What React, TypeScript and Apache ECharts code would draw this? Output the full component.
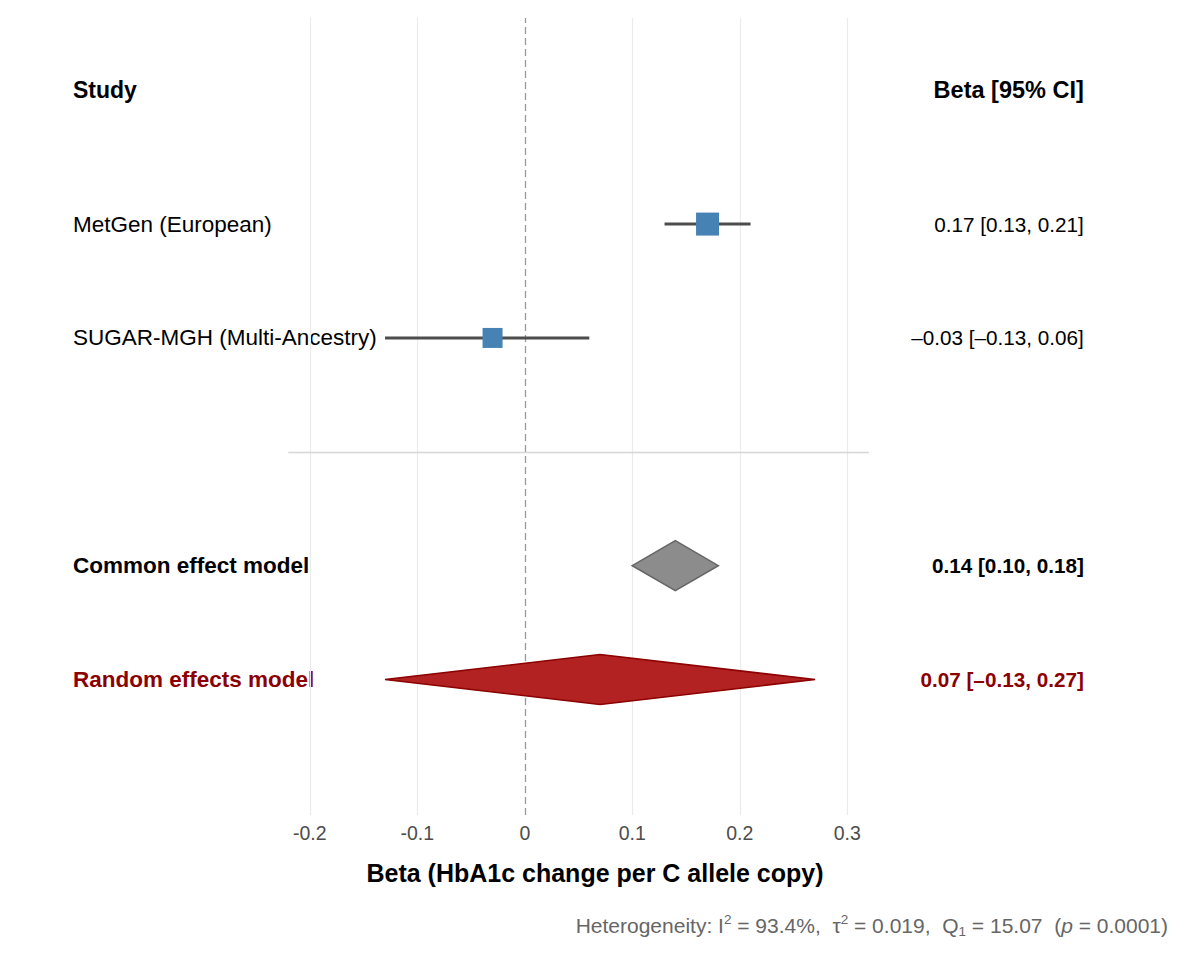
import React, { useEffect, useRef } from 'react';
import * as echarts from 'echarts';

// ---------- data ----------
const studyNames = ['MetGen (European)', 'SUGAR-MGH (Multi-Ancestry)'];
const studyBeta = [0.17, -0.03];
const studyLower = [0.13, -0.13];
const studyUpper = [0.21, 0.06];
const studyWeight = [85.0, 15.0]; // % weight (common effect)
const studyRow = [5, 4];

const modelNames = ['Common effect model', 'Random effects model'];
const modelBeta = [0.14, 0.07];
const modelLower = [0.10, -0.13];
const modelUpper = [0.18, 0.27];
const modelRow = [2, 1];

const separatorRow = 3;
const headerRow = 6.18;
const headerLeft = 'Study';
const headerRight = 'Beta [95% CI]';

const xTickValues = [-0.2, -0.1, 0, 0.1, 0.2, 0.3];
const xGridValues = [-0.2, -0.1, 0.1, 0.2, 0.3];
const referenceValue = 0;
const xMin = -0.22;
const xMax = 0.32;
const yMin = -0.19;
const yMax = 6.81;

const xTitle = 'Beta (HbA1c change per C allele copy)';
const hetI2 = '93.4%';
const hetTau2 = '0.019';
const hetQdf = '1';
const hetQ = '15.07';
const hetP = '0.0001';

// ---------- helpers ----------
const FONT = '"Liberation Sans", Arial, Helvetica, sans-serif';
const fmt = (v: number) => (v < 0 ? '\u2013' : '') + Math.abs(v).toFixed(2);
const ci = (b: number, l: number, u: number) => `${fmt(b)} [${fmt(l)}, ${fmt(u)}]`;
const same = (a: number, b: number) => Math.abs(a - b) < 1e-6;

const leftLabels: { v: number; t: string }[] = [
  { v: headerRow, t: `{hb|${headerLeft}}` },
  ...studyNames.map((n, i) => ({ v: studyRow[i], t: `{n|${n}}` })),
  { v: modelRow[0], t: `{cb|${modelNames[0]}}` },
  { v: modelRow[1], t: `{rb|${modelNames[1]}}` },
];
const rightLabels: { v: number; t: string }[] = [
  { v: headerRow, t: `{hb|${headerRight}}` },
  ...studyNames.map((_, i) => ({ v: studyRow[i], t: `{n|${ci(studyBeta[i], studyLower[i], studyUpper[i])}}` })),
  { v: modelRow[0], t: `{cb|${ci(modelBeta[0], modelLower[0], modelUpper[0])}}` },
  { v: modelRow[1], t: `{rb|${ci(modelBeta[1], modelLower[1], modelUpper[1])}}` },
];

const wMin = Math.min(...studyWeight);
const wMax = Math.max(...studyWeight);
const sizeForWeight = (w: number) => 20 + ((w - wMin) / (wMax - wMin || 1)) * 3;

export default function App() {
  const ref = useRef<HTMLDivElement>(null);

  useEffect(() => {
    if (!ref.current) return;
    const chart = echarts.init(ref.current, undefined, { renderer: 'svg' });

    const leftRich = {
      hb: { fontSize: 23, fontWeight: 'bold', color: '#000', fontFamily: FONT },
      n: { fontSize: 22.5, color: '#000', fontFamily: FONT },
      cb: { fontSize: 22.5, fontWeight: 'bold', color: '#000', fontFamily: FONT },
      rb: { fontSize: 22.5, fontWeight: 'bold', color: '#8b0000', fontFamily: FONT },
    };
    const rightRich = {
      hb: { fontSize: 23.5, fontWeight: 'bold', color: '#000', fontFamily: FONT },
      n: { fontSize: 20.7, color: '#000', fontFamily: FONT },
      cb: { fontSize: 20.7, fontWeight: 'bold', color: '#000', fontFamily: FONT },
      rb: { fontSize: 20.7, fontWeight: 'bold', color: '#8b0000', fontFamily: FONT },
    };

    const option: any = {
      animation: false,
      backgroundColor: '#ffffff',
      textStyle: { fontFamily: FONT },
      grid: { left: 288.3, right: 1200 - 868.8, top: 18, bottom: 145, containLabel: false },
      xAxis: {
        type: 'value',
        min: xMin,
        max: xMax,
        axisLine: { show: false },
        axisTick: { show: false },
        splitLine: { show: false },
        axisLabel: {
          customValues: xTickValues,
          formatter: (v: number) => String(Number(v.toFixed(1))),
          color: '#4d4d4d',
          fontSize: 19.5,
          margin: 8,
          fontFamily: FONT,
        },
      },
      yAxis: [
        {
          type: 'value',
          min: yMin,
          max: yMax,
          position: 'left',
          axisLine: { show: false },
          axisTick: { show: false },
          splitLine: { show: false },
          axisLabel: {
            customValues: leftLabels.map((d) => d.v),
            formatter: (v: number) => (leftLabels.find((d) => same(d.v, v)) || { t: '' }).t,
            align: 'left',
            margin: 215.3,
            rich: leftRich,
          },
        },
        {
          type: 'value',
          min: yMin,
          max: yMax,
          position: 'right',
          axisLine: { show: false },
          axisTick: { show: false },
          splitLine: { show: false },
          axisLabel: {
            customValues: rightLabels.map((d) => d.v),
            formatter: (v: number) => (rightLabels.find((d) => same(d.v, v)) || { t: '' }).t,
            align: 'right',
            margin: 215,
            rich: rightRich,
          },
        },
      ],
      graphic: [
        {
          type: 'text',
          x: 595,
          y: 873,
          style: {
            text: xTitle,
            fill: '#000',
            fontSize: 25,
            fontWeight: 'bold',
            fontFamily: FONT,
            align: 'center',
            verticalAlign: 'middle',
          },
        },
        {
          type: 'text',
          x: 1168,
          y: 925,
          style: {
            text: `Heterogeneity: I{sup|2} = ${hetI2},  {b|\u03c4}{sup|2} = ${hetTau2},  Q{sub|${hetQdf}} = ${hetQ}  ({it|p} = ${hetP})`,
            fill: '#666666',
            fontSize: 21,
            fontFamily: FONT,
            align: 'right',
            verticalAlign: 'middle',
            lineHeight: 26,
            rich: {
              b: { fontSize: 21, fill: '#666666', fontFamily: FONT, lineHeight: 26 },
              sup: { fontSize: 13.5, fill: '#666666', fontFamily: FONT, verticalAlign: 'top', lineHeight: 16 },
              sub: { fontSize: 13.5, fill: '#666666', fontFamily: FONT, verticalAlign: 'bottom', lineHeight: 16 },
              it: { fontSize: 21, fill: '#666666', fontFamily: FONT, fontStyle: 'italic', lineHeight: 26 },
            },
          },
        },
      ],
      series: [
        {
          type: 'scatter',
          name: 'guides',
          data: [],
          silent: true,
          z: 1,
          markLine: {
            silent: true,
            symbol: ['none', 'none'],
            label: { show: false },
            animation: false,
            data: [
              ...xGridValues.map((v) => ({ xAxis: v, lineStyle: { color: '#ebebeb', width: 1.2, type: 'solid' } })),
              { xAxis: referenceValue, lineStyle: { color: '#999999', width: 1.3, type: [7, 4] } },
              [
                { coord: [xMin, separatorRow], lineStyle: { color: '#d6d6d6', width: 1.3, type: 'solid' } },
                { coord: [xMax, separatorRow] },
              ],
            ],
          },
        },
        {
          type: 'custom',
          name: 'studies',
          z: 5,
          data: studyBeta.map((b, i) => [b, studyRow[i], studyLower[i], studyUpper[i], studyWeight[i]]),
          encode: { x: [0, 2, 3], y: 1 },
          renderItem: (params: any, api: any) => {
            const b = api.value(0);
            const y = api.value(1);
            const c = api.coord([b, y]);
            const l = api.coord([api.value(2), y]);
            const h = api.coord([api.value(3), y]);
            const s = sizeForWeight(api.value(4));
            return {
              type: 'group',
              children: [
                {
                  type: 'line',
                  shape: { x1: l[0], y1: l[1], x2: h[0], y2: h[1] },
                  style: { stroke: '#4d4d4d', lineWidth: 3 },
                },
                {
                  type: 'rect',
                  shape: { x: c[0] - s / 2, y: c[1] - s / 2, width: s, height: s },
                  style: { fill: '#4682b4' },
                },
              ],
            };
          },
        },
        {
          type: 'custom',
          name: 'models',
          z: 5,
          data: modelBeta.map((b, i) => [b, modelRow[i], modelLower[i], modelUpper[i]]),
          encode: { x: [0, 2, 3], y: 1 },
          renderItem: (params: any, api: any) => {
            const y = api.value(1);
            const c = api.coord([api.value(0), y]);
            const l = api.coord([api.value(2), y]);
            const h = api.coord([api.value(3), y]);
            const half = 25;
            const isCommon = params.dataIndex === 0;
            return {
              type: 'polygon',
              shape: { points: [[l[0], l[1]], [c[0], c[1] - half], [h[0], h[1]], [c[0], c[1] + half]] },
              style: {
                fill: isCommon ? '#8c8c8c' : '#b22222',
                stroke: isCommon ? '#666666' : '#8b0000',
                lineWidth: 1.6,
              },
            };
          },
        },
      ],
    };

    chart.setOption(option);
    return () => chart.dispose();
  }, []);

  return (
    <div
      ref={ref}
      style={{ position: 'absolute', left: 0, top: 0, width: 1200, height: 960, background: '#fff' }}
    />
  );
}
